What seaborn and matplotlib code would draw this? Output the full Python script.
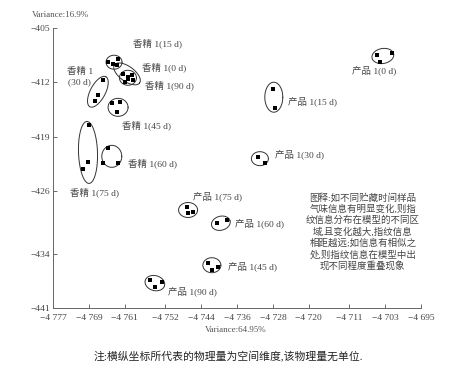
import numpy as np
import pandas as pd
import matplotlib
matplotlib.use("Agg")
import matplotlib.pyplot as plt
import seaborn as sns

# sample groups and their points
groups = ["香精 1(0 d)", "香精 1(15 d)", "香精 1(30 d)", "香精 1(45 d)",
          "香精 1(60 d)", "香精 1(75 d)", "香精 1(90 d)",
          "产品 1(0 d)", "产品 1(15 d)", "产品 1(30 d)", "产品 1(45 d)",
          "产品 1(60 d)", "产品 1(75 d)", "产品 1(90 d)"]
pts_x = [[-4761.4, -4760.3, -4761.0],
         [-4764.7, -4763.6, -4762.7, -4762.5],
         [-4765.9, -4767.0, -4767.6],
         [-4763.9, -4762.1, -4762.7],
         [-4764.7, -4765.9, -4762.5],
         [-4769.0, -4769.2, -4770.3],
         [-4759.4, -4759.2, -4760.3],
         [-4704.8, -4701.5, -4704.1],
         [-4728.0, -4727.5],
         [-4731.3, -4729.8],
         [-4742.5, -4741.6, -4740.2],
         [-4740.5, -4738.2],
         [-4747.1, -4746.9, -4745.8],
         [-4755.4, -4752.7, -4754.3]]
pts_y = [[-410.9, -411.3, -411.9],
         [-409.4, -409.6, -409.8, -409.0],
         [-411.7, -413.6, -414.4],
         [-414.6, -414.5, -415.8],
         [-420.4, -422.4, -422.4],
         [-417.5, -422.2, -423.1],
         [-411.0, -411.7, -411.6],
         [-408.5, -408.2, -409.4],
         [-412.8, -415.3],
         [-421.6, -422.4],
         [-435.2, -436.1, -435.7],
         [-430.1, -429.7],
         [-428.0, -428.8, -428.7],
         [-437.4, -437.7, -438.3]]

# ellipse centres, axes (in pixels of the original chart) and rotation in degrees
ell_cx = [-4760.5, -4763.4, -4767.0, -4762.5, -4763.9, -4769.2, -4760.3,
          -4703.5, -4727.8, -4730.9, -4741.6, -4739.6, -4746.9, -4754.3]
ell_cy = [-410.9, -409.4, -413.2, -415.2, -421.5, -421.0, -411.4,
          -408.6, -413.9, -421.8, -435.5, -430.1, -428.4, -437.8]
ell_w = [31, 16, 34, 20, 20, 62, 17, 22, 18, 17, 18, 19, 19, 20]
ell_h = [15, 14, 15, 18, 22, 19, 15, 15, 30, 14, 15, 14, 15, 15]
ell_ang = [-36, 0, 62, 0, 0, 92, 0, 10, 0, 0, 0, 15, 0, -15]

# label positions
lab_text = ["香精 1(0 d)", "香精 1(15 d)", "香精 1\n(30 d)", "香精 1(45 d)",
            "香精 1(60 d)", "香精 1(75 d)", "香精 1(90 d)",
            "产品 1(0 d)", "产品 1(15 d)", "产品 1(30 d)", "产品 1(45 d)",
            "产品 1(60 d)", "产品 1(75 d)", "产品 1(90 d)"]
lab_x = [-4757.2, -4759.2, -4771.0, -4761.6, -4760.3, -4773.2, -4756.5,
         -4710.4, -4724.6, -4727.5, -4738.0, -4736.4, -4745.8, -4751.4]
lab_y = [-410.1, -406.9, -411.2, -417.5, -422.4, -426.1, -412.3,
         -410.4, -414.4, -421.3, -435.7, -430.1, -426.7, -438.8]

x_ticks = [-4777, -4769, -4761, -4752, -4744, -4736, -4728, -4720, -4711, -4703, -4695]
y_ticks = [-441, -434, -426, -419, -412, -405]

note = ("图释:如不同贮藏时间样品\n气味信息有明显变化,则指\n纹信息分布在模型的不同区\n"
        "域,且变化越大,指纹信息\n相距越远;如信息有相似之\n处,则指纹信息在模型中出\n现不同程度重叠现象")

sns.set_theme(style="ticks")
plt.rcParams['font.family'] = ['Liberation Serif', 'Noto Sans CJK SC', 'DejaVu Sans']
plt.rcParams['axes.unicode_minus'] = True

rows = []
for g, xs, ys in zip(groups, pts_x, pts_y):
    for a, b in zip(xs, ys):
        rows.append({"group": g, "x": a, "y": b})
df = pd.DataFrame(rows)

fig = plt.figure(figsize=(4.68, 3.69), dpi=100)
ax = fig.add_axes([53 / 468, 1 - 308 / 369, 368 / 468, 280 / 369])

xmin, xmax = -4777, -4695
ymin, ymax = -441, -405
sx = (xmax - xmin) / 368  # data per pixel
sy = (ymax - ymin) / 280

sns.scatterplot(data=df, x="x", y="y", marker="s", s=12, color="black",
                edgecolor="black", linewidth=0, ax=ax, legend=False, zorder=3)

t = np.linspace(0, 2 * np.pi, 200)
for cx, cy, w, h, a in zip(ell_cx, ell_cy, ell_w, ell_h, ell_ang):
    r = np.deg2rad(a)
    ex = w / 2 * np.cos(t)
    ey = h / 2 * np.sin(t)
    px = ex * np.cos(r) - ey * np.sin(r)
    py = ex * np.sin(r) + ey * np.cos(r)
    ax.plot(cx + px * sx, cy + py * sy, color="#333333", lw=0.7, zorder=2)

for s, x, y in zip(lab_text, lab_x, lab_y):
    ha = "center" if "\n" in s else "left"
    ax.text(x, y, s, fontsize=6.8, color="#444444", ha=ha, va="center",
            linespacing=1.4)

ax.text(0.842, 0.271, note, transform=ax.transAxes, fontsize=6.8,
        color="#444444", ha="center", va="center", linespacing=1.25)

ax.set_xlim(xmin, xmax)
ax.set_ylim(ymin, ymax)
ax.set_xticks(x_ticks)
ax.set_xticklabels(["\u2212" + str(v)[1] + " " + str(v)[2:] for v in x_ticks])
ax.set_yticks(y_ticks)
ax.set_yticklabels(["\u2212" + str(v)[1:] for v in y_ticks])
ax.tick_params(direction="in", length=3, width=0.6, colors="#555555",
               labelsize=6.8, labelcolor="#444444", pad=2)
ax.tick_params(axis="x", pad=4)
ax.set_xlabel("")
ax.set_ylabel("")
sns.despine(ax=ax)
for sp in ["left", "bottom"]:
    ax.spines[sp].set_color("#666666")
    ax.spines[sp].set_linewidth(0.7)

fig.text(32 / 468, 1 - 15 / 369, "Variance:16.9%", fontsize=6.5,
         color="#555555", ha="left", va="center")
fig.text(236 / 468, 1 - 330 / 369, "Variance:64.95%", fontsize=6.5,
         color="#555555", ha="center", va="center")
fig.text(228 / 468, 1 - 357 / 369, "注:横纵坐标所代表的物理量为空间维度,该物理量无单位.",
         fontsize=7.8, color="#222222", ha="center", va="center")

fig.savefig("out.png", dpi=100)
